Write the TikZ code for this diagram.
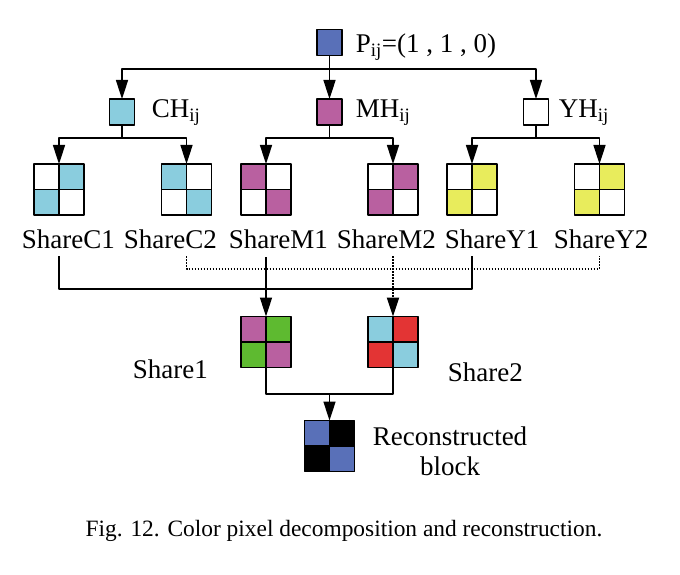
\documentclass[tikz,border=0pt]{standalone}
\usepackage{fontspec}
\setmainfont{Liberation Serif}
\usetikzlibrary{arrows.meta}
\definecolor{pixblue}{RGB}{89,112,184}
\definecolor{cyancol}{RGB}{138,205,222}
\definecolor{magcol}{RGB}{185,96,160}
\definecolor{yelcol}{RGB}{232,236,92}
\definecolor{grncol}{RGB}{94,186,48}
\definecolor{redcol}{RGB}{227,52,52}
\newcommand{\cells}[5]{%
  \fill[#2] (#1.north west) rectangle (#1.center);
  \fill[#3] (#1.north east) rectangle (#1.center);
  \fill[#4] (#1.south west) rectangle (#1.center);
  \fill[#5] (#1.south east) rectangle (#1.center);
  \draw[line width=1.7pt] (#1.north west) rectangle (#1.south east)
    (#1.north) -- (#1.south) (#1.west) -- (#1.east);}
\begin{document}
\begin{tikzpicture}[x=1pt, y=-1pt, line width=1.6pt, line join=round,
  font=\fontsize{27}{30}\selectfont,
  pix/.style={draw, line width=1.7pt, minimum width=25pt, minimum height=26pt, inner sep=0pt, outer sep=0pt},
  share/.style={minimum width=50pt, minimum height=51pt, inner sep=0pt, outer sep=0pt},
  lab/.style={anchor=base west, inner sep=0pt},
  arr/.style={-{Triangle[length=19pt,width=12pt]}},
  dotline/.style={line width=1.8pt, dash pattern=on 1.5pt off 1.5pt}]
\useasboundingbox (0,0) rectangle (680,575);
\node[pix, fill=pixblue] (P) at (329.5,42.5) {};
\node[lab] (Plab) at (355,53) {P\textsubscript{ij}=(1 , 1 , 0)};
\node[pix, fill=cyancol] (CH) at (122,112) {};
\node[lab] (CHlab) at (151,118) {CH\textsubscript{ij}};
\node[pix, fill=magcol] (MH) at (329.5,112) {};
\node[lab] (MHlab) at (355,118) {MH\textsubscript{ij}};
\node[pix, fill=white] (YH) at (536,112) {};
\node[lab] (YHlab) at (558,118) {YH\textsubscript{ij}};
\node[share] (C1) at (59,189.5) {};
\node[share] (C2) at (186.5,189.5) {};
\node[share] (M1) at (266,189.5) {};
\node[share] (M2) at (393,189.5) {};
\node[share] (Y1) at (472,189.5) {};
\node[share] (Y2) at (599.5,189.5) {};
\cells{C1}{white}{cyancol}{cyancol}{white}
\cells{C2}{cyancol}{white}{white}{cyancol}
\cells{M1}{magcol}{white}{white}{magcol}
\cells{M2}{white}{magcol}{magcol}{white}
\cells{Y1}{white}{yelcol}{yelcol}{white}
\cells{Y2}{white}{yelcol}{yelcol}{white}
\node[lab] (lC1) at (21,248) {ShareC1};
\node[lab] (lC2) at (123,248) {ShareC2};
\node[lab] (lM1) at (228,248) {ShareM1};
\node[lab] (lM2) at (336,248) {ShareM2};
\node[lab] (lY1) at (444,248) {ShareY1};
\node[lab] (lY2) at (553,248) {ShareY2};
\node[share] (S1) at (266,342) {};
\node[share] (S2) at (393,342) {};
\cells{S1}{magcol}{grncol}{grncol}{magcol}
\cells{S2}{cyancol}{redcol}{redcol}{cyancol}
\node[lab] (lS1) at (132,378) {Share1};
\node[lab] (lS2) at (447,381) {Share2};
\node[share] (R) at (329.5,446) {};
\cells{R}{pixblue}{black}{black}{pixblue}
\node[anchor=base, inner sep=0pt] (lR) at (450,445) {Reconstructed};
\node[anchor=base, inner sep=0pt] (lR2) at (450,475) {block};
\node[anchor=base, inner sep=0pt, font=\fontsize{23.4}{28}\selectfont] (cap) at (344,536)
  {Fig. 12. Color pixel decomposition and reconstruction.};
\coordinate (j0) at (329.5,69);
\coordinate (c0) at (122,138);
\coordinate (m0) at (329.5,138);
\coordinate (y0) at (536,138);
\draw (P.south) -- (j0);
\draw[arr] (j0) -| (CH.north);
\draw[arr] (j0) -- (MH.north);
\draw[arr] (j0) -| (YH.north);
\draw (CH.south) -- (c0);
\draw[arr] (c0) -| (C1.north);
\draw[arr] (c0) -| (C2.north);
\draw (MH.south) -- (m0);
\draw[arr] (m0) -| (M1.north);
\draw[arr] (m0) -| (M2.north);
\draw (YH.south) -- (y0);
\draw[arr] (y0) -| (Y1.north);
\draw[arr] (y0) -| (Y2.north);
\coordinate (tC1) at (59,256);
\coordinate (tC2) at (186.5,256);
\coordinate (tM1) at (266,257);
\coordinate (tM2) at (393,256);
\coordinate (tY1) at (472,256);
\coordinate (tY2) at (599.5,256);
\coordinate (sb) at (472,289);
\coordinate (db) at (599.5,269);
\draw (tC1) |- (sb) -- (tY1);
\draw[dotline] (tC2) |- (db) -- (tY2);
\draw[arr] (tM1) -- (S1.north);
\draw[arr, dotline] (tM2) -- (S2.north);
\coordinate (r0) at (329.5,394);
\draw (S1.south) |- (r0) -| (S2.south);
\draw[arr] (r0) -- (R.north);
\end{tikzpicture}
\end{document}
